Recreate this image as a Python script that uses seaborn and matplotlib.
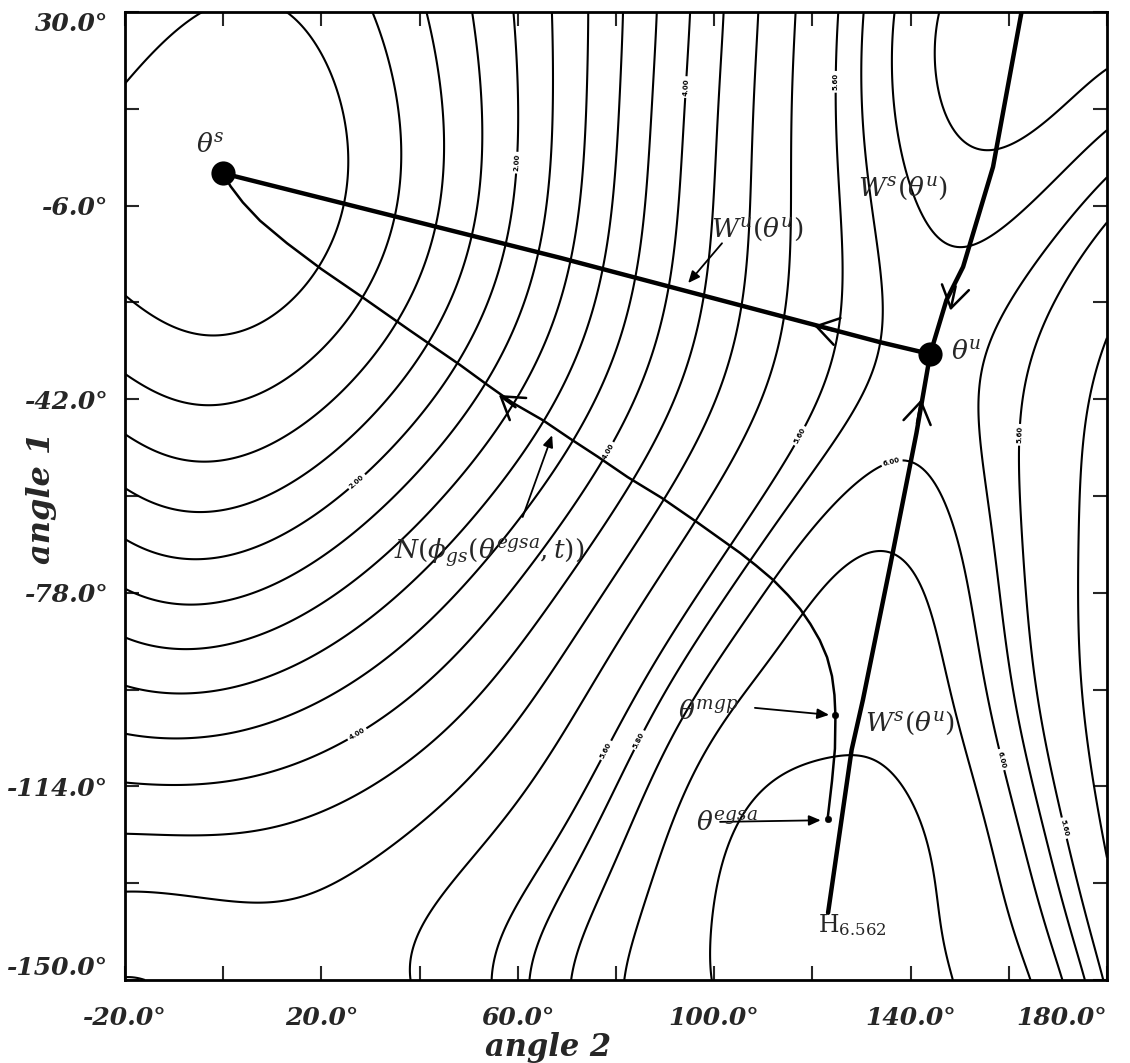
import numpy as np
import matplotlib
matplotlib.use("Agg")
import matplotlib.pyplot as plt
import seaborn as sns

# contour levels of the energy surface
levels = [0.4, 0.8, 1.2, 1.6, 2.0, 2.4, 2.8, 3.2, 3.6, 4.0, 4.4, 4.8,
          5.2, 5.6, 5.8, 6.0, 6.2, 6.4]

# points: (angle 2 list, angle 1 list), degrees
c04 = ([-20, -4.7, 11, 22.4, 26.2, 24.4, 18.7, 8, 0, -12, -20],
       [17, 30, 30, 16.8, 4.3, -5, -19.6, -28, -30, -28, -23])
c08 = ([-20, 0, 12, 28.3, 36, 34, 32], [-37, -43, -38, -23, 0, 15, 30])
c12 = ([-20, 0, 18, 35, 44, 43, 42], [-48, -53, -44, -27, 0, 15, 30])
c16 = ([-20, 0, 22, 42, 53.5, 52, 51.5], [-58, -62, -52, -31, 0, 15, 30])
c20 = ([-20, 0, 27.5, 48.2, 60.2, 59], [-69, -72, -57.6, -35.6, 0, 30])
c24 = ([-20, -9.8, 7.1, 20.7, 53.9, 66.6, 66.5],
       [-78, -79.9, -76.9, -71.9, -39.4, 0, 30])
c28 = ([-20, -9.8, 7.1, 33, 59, 70.2, 73.6, 74.3],
       [-86.8, -88.1, -85.5, -73.2, -42.7, -16.6, 0, 30])
c32 = ([-20, -8.4, 10.5, 41.7, 65.1, 77.1, 80.6, 81.2],
       [-95.5, -96.4, -92.3, -75.1, -45.9, -18.2, 0, 30])
c36 = ([-20, -9.8, 7.1, 51.3, 70.6, 83.9, 86.9, 87.9],
       [-103.9, -105, -101.6, -75.1, -49.3, -19.8, 0, 30])
c40 = ([-20, -6.4, 24.8, 31.9, 60.9, 76.3, 90.6, 93.7, 94.7],
       [-112.8, -114.1, -105.9, -101.6, -75.1, -52.7, -21.4, 0, 30])
c44 = ([-20, -3.1, 20.7, 70.2, 82.4, 97.7, 100.3, 101],
       [-122.5, -123.4, -120.2, -75.1, -56.5, -23.1, 0, 30])
c48 = ([-20, 0.4, 20.7, 77.8, 89.4, 105.7, 107.3, 109.2],
       [-133.8, -137.3, -133.3, -77.5, -60.4, -25, 0, 30])
c52 = ([-20, -17, 31.9, 40, 47.8, 72.3, 82.5, 96.7, 114.8, 115.6, 118,
        180, 174.5, 172.9, 174.5, 177.8, 180],
       [-148.5, -150, -150, -138, -127.7, -92.4, -79.4, -65, -27.1, 0, 30,
        -32.8, -48.3, -66.9, -97.9, -113.7, -123])
c56 = ([57.8, 66, 77.8, 84.9, 105.3, 119, 127.3, 122.6, 128,
        180, 170.4, 162.7, 160.9, 164.3, 170, 179.2],
       [-150, -128, -107.2, -98, -70.6, -49.6, -30.1, 0, 30,
        -6.8, -23.6, -45.3, -60.7, -97.9, -122, -150])
c58 = ([64.5, 85, 92.2, 108.3, 127.7, 135.8, 130, 131.9,
        180, 163.7, 156.2, 155.6, 158.5, 163.3, 175.1],
       [-150, -107, -98, -73.2, -46.4, -23.6, 0, 30,
        0.6, -23.6, -36, -54.6, -98, -105.6, -150])
c60 = ([70.6, 94.3, 112, 127.7, 132.7, 141.3, 148, 153.7, 158.6, 170.8,
        135.2, 138, 141.2, 145, 151.5, 165.7, 180],
       [-150, -98, -75.6, -58.9, -54.2, -50.5, -64, -86.8, -110, -150,
        30, 15, 0, -10, -18, -4.8, 8.6])
c62 = ([76.3, 88, 100.4, 116.9, 126, 134.4, 141, 148.2, 156.4, 166.2,
        140.5, 144.6, 150.1, 157.6, 164.9, 180],
       [-150, -125, -98, -79.9, -72.5, -69.7, -74, -86.8, -111.9, -150,
        30, 16.8, 6.2, 1.2, 3, 16])
c64 = ([102.2, 100.5, 101.8, 106.6, 114, 124.2, 131, 137.8, 144.6, 146],
       [-150, -142, -132, -120.6, -111.5, -107.8, -110.3, -121.5, -138.2, -150])

# a few estimated spot values inside hills / valleys
spot_a2 = [122, 124, 125, 96, 152, 172, 180, 180, 0, 112, 138, 154, 159, 146,
           150, 160, 165, 170]
spot_a1 = [-140, -125, -90, -125, -125, 27, 30, -78, -150, -98, -100, -98, -98, -75,
           28, 25, 14, 22]
spot_v = [6.55, 6.5, 6.3, 6.3, 6.3, 6.28, 6.3, 5.05, 5.05, 6.3, 6.3, 6.1, 5.9, 6.1,
          6.25, 6.28, 6.25, 6.28]

# equilibria (angle 2, angle 1) and saddle energy
theta_s = (0.0, 0.0)
theta_u = (144.0, -33.6)
v_saddle = 5.87
theta_mgp = (124.7, -100.8)
theta_egsa = (123.1, -120.1)

# manifolds and the gradient trajectory
wu_a2 = [0.0, 68.6, 133.8, 144.0]
wu_a1 = [0.0, -15.7, -31.4, -33.6]
ws_a2 = [162.6, 156.8, 150.7, 147.3, 144.0, 141.2, 135.8, 130.3, 128.0, 123.2]
ws_a1 = [30.0, 1.2, -17.4, -23.6, -33.6, -48.3, -73.2, -97.9, -107.2, -137.5]
n_a2 = [123.1, 124.0, 124.6, 124.7, 124.5, 124.0, 123.0, 121.5, 119.6, 117.5,
        115.0, 112.0, 108.5, 105.3, 96.7, 89.4, 82.4, 76.3, 70.6, 65.1, 59.0,
        53.9, 48.2, 38.0, 28.3, 20.0, 13.0, 7.5, 4.0, 1.5, 0.0]
n_a1 = [-120.1, -113.0, -107.0, -100.8, -97.0, -93.5, -90.0, -86.8, -83.8, -81.0,
        -78.4, -75.6, -72.9, -70.6, -65.0, -60.4, -56.5, -52.7, -49.3, -45.9, -42.7,
        -39.4, -35.6, -29.2, -23.0, -17.8, -13.0, -8.8, -5.4, -2.4, 0.0]

# tick labels
x_ticks = list(range(-20, 181, 20))
x_labels = ["-20.0°", "", "20.0°", "", "60.0°", "", "100.0°", "", "140.0°", "", "180.0°"]
y_ticks = list(range(-150, 31, 18))
y_labels = ["-150.0°", "", "-114.0°", "", "-78.0°", "", "-42.0°", "", "-6.0°", "", "30.0°"]

# where the small level labels sit
lab_a2 = [59.6, 95, 127, 27.5, 77, 119, 161.7, 27.5, 77.8, 86, 136, 158.6, 170.2]
lab_a1 = [2, 16, 17, -57.6, -51, -49.6, -48.6, -104.6, -107.2, -106, -53, -109, -122]


# ---------------- energy surface fitted through the read contour points -------------
modes = [(0, 1), (0, 2), (0, 3)] + [(m, n) for m in (1, 2, 3) for n in range(-3, 4)]
# local bumps for the hill and the saddle area
bump_a2 = [100, 125, 150, 112, 137, 125, 140, 165, 160]
bump_a1 = [-150, -150, -150, -125, -125, -100, 0, -60, -110]
bump_w = 20.0


def features(a2, a1):
    x = np.asarray(a2, dtype=float)
    y = np.asarray(a1, dtype=float)
    u, v = np.radians(x), np.radians(y)
    cols = [u, v]
    for m, n in modes:
        ph = m * u + n * v
        cols.append(1.0 - np.cos(ph))
        cols.append(np.sin(ph))
    for bx, by in zip(bump_a2, bump_a1):
        cols.append(np.exp(-((x - bx) ** 2 + (y - by) ** 2) / (2 * bump_w ** 2)))
    return np.stack(cols, axis=-1)


def feature_grads(a2, a1):
    x = np.asarray(a2, dtype=float)
    y = np.asarray(a1, dtype=float)
    u, v = np.radians(x), np.radians(y)
    one, zero = np.ones_like(u), np.zeros_like(u)
    gu, gv = [one, zero], [zero, one]
    for m, n in modes:
        ph = m * u + n * v
        s, c = np.sin(ph), np.cos(ph)
        gu += [m * s, m * c]
        gv += [n * s, n * c]
    k = 180.0 / np.pi
    for bx, by in zip(bump_a2, bump_a1):
        g = np.exp(-((x - bx) ** 2 + (y - by) ** 2) / (2 * bump_w ** 2))
        gu.append(-k * (x - bx) / bump_w ** 2 * g)
        gv.append(-k * (y - by) / bump_w ** 2 * g)
    return np.stack(gu, axis=-1), np.stack(gv, axis=-1)


lines = [(0.4, c04, 1), (0.8, c08, 1), (1.2, c12, 1), (1.6, c16, 1), (2.0, c20, 1),
         (2.4, c24, 1), (2.8, c28, 1), (3.2, c32, 1), (3.6, c36, 1), (4.0, c40, 1),
         (4.4, c44, 1), (4.8, c48, 1), (5.2, c52, 1.2), (5.6, c56, 1.8), (5.8, c58, 2.5),
         (6.0, c60, 3), (6.2, c62, 2.5), (6.4, c64, 3)]
pa2 = np.concatenate([np.array(p[0], float) for _, p, _ in lines] + [np.array(spot_a2, float)])
pa1 = np.concatenate([np.array(p[1], float) for _, p, _ in lines] + [np.array(spot_a1, float)])
pv = np.concatenate([np.full(len(p[0]), lv) for lv, p, _ in lines] + [np.array(spot_v)])
pw = np.concatenate([np.full(len(p[0]), w) for _, p, w in lines] + [np.full(len(spot_v), 2.5)])

eq2 = [theta_s[0], theta_u[0]]
eq1 = [theta_s[1], theta_u[1]]
gu, gv = feature_grads(eq2, eq1)
A = np.vstack([features(pa2, pa1) * pw[:, None], 4 * gu, 4 * gv,
               6 * features([theta_u[0]], [theta_u[1]])])
b = np.concatenate([pv * pw, np.zeros(4), [6 * v_saddle]])
pen = np.array([1.0, 1.0] + [float(m * m + n * n) for m, n in modes for _ in (0, 1)]
               + [3.0] * len(bump_a2))
lam = 0.02
A = np.vstack([A, lam * np.diag(pen)])
b = np.concatenate([b, np.zeros(len(pen))])
coef = np.linalg.lstsq(A, b, rcond=None)[0]

g2, g1 = np.meshgrid(np.linspace(-20, 180, 401), np.linspace(-150, 30, 361))
Z = features(g2, g1) @ coef

# ---------------- drawing ----------------
sns.set_theme(style="ticks")
plt.rcParams["font.family"] = ["DejaVu Serif"]
plt.rcParams["mathtext.fontset"] = "dejavuserif"

fig = plt.figure(figsize=(11.3, 10.63), dpi=100)
ax = fig.add_axes([0.1106, 0.0781, 0.869, 0.9106])

cs = ax.contour(g2, g1, Z, levels=levels, colors="black", linewidths=1.5)
txts = ax.clabel(cs, manual=list(zip(lab_a2, lab_a1)), inline=True,
                 fontsize=5, fmt="%.2f", inline_spacing=3)
for t in txts:
    t.set_fontweight("bold")
    t.set_family("DejaVu Sans")

sns.lineplot(x=wu_a2, y=wu_a1, sort=False, estimator=None, color="black", lw=3.2, ax=ax)
sns.lineplot(x=ws_a2, y=ws_a1, sort=False, estimator=None, color="black", lw=3.2, ax=ax)
sns.lineplot(x=n_a2, y=n_a1, sort=False, estimator=None, color="black", lw=1.8, ax=ax)

sns.scatterplot(x=[theta_s[0], theta_u[0]], y=[theta_s[1], theta_u[1]], s=260,
                color="black", edgecolor="black", ax=ax, zorder=5)
sns.scatterplot(x=[theta_mgp[0], theta_egsa[0]], y=[theta_mgp[1], theta_egsa[1]], s=22,
                color="black", edgecolor="black", ax=ax, zorder=5)

# open chevrons on the trajectories
chev = dict(arrowstyle="->,head_length=0.7,head_width=0.45", color="black", lw=1.8,
            mutation_scale=22)
ax.annotate("", xy=(119.8, -28.2), xytext=(125.0, -29.4), arrowprops=chev)
ax.annotate("", xy=(55.7, -40.9), xytext=(60.0, -43.8), arrowprops=chev)
ax.annotate("", xy=(148.0, -26.0), xytext=(149.3, -20.5), arrowprops=chev)
ax.annotate("", xy=(142.3, -41.5), xytext=(141.2, -47.0), arrowprops=chev)

# pointer arrows
ptr = dict(arrowstyle="-|>,head_length=0.5,head_width=0.22", color="black", lw=1.3,
           mutation_scale=14, shrinkA=0, shrinkB=0)
ax.annotate("", xy=(94.7, -20.4), xytext=(101.6, -13.0), arrowprops=ptr)
ax.annotate("", xy=(67.0, -48.7), xytext=(61.0, -63.9), arrowprops=ptr)
ax.annotate("", xy=(123.4, -100.7), xytext=(108.3, -99.4), arrowprops=ptr)
ax.annotate("", xy=(121.7, -120.3), xytext=(101.2, -120.6), arrowprops=ptr)

fs = 19
ax.text(-2.7, 5.3, r"$\theta^{s}$", fontsize=fs, ha="center", va="center")
ax.text(148.3, -33.2, r"$\theta^{u}$", fontsize=fs, ha="left", va="center")
ax.text(108.8, -10.4, r"$W^{u}(\theta^{u})$", fontsize=fs, ha="center", va="center")
ax.text(138.4, -2.8, r"$W^{s}(\theta^{u})$", fontsize=fs, ha="center", va="center")
ax.text(139.9, -102.2, r"$W^{s}(\theta^{u})$", fontsize=fs, ha="center", va="center")
ax.text(98.8, -100.0, r"$\theta^{mgp}$", fontsize=fs, ha="center", va="center")
ax.text(102.6, -120.8, r"$\theta^{egsa}$", fontsize=fs, ha="center", va="center")
ax.text(54.1, -70.5, r"$N(\phi_{gs}(\theta^{egsa},t))$", fontsize=fs, ha="center", va="center")
ax.text(121.1, -139.8, r"H$_{6.562}$", fontsize=17, ha="left", va="center")

ax.set_xlim(-20, 180)
ax.set_ylim(-150, 30)
ax.set_xticks(x_ticks)
ax.set_xticklabels(x_labels)
ax.set_yticks(y_ticks)
ax.set_yticklabels(y_labels)
ax.tick_params(direction="in", length=10, width=1.5, top=True, right=True,
               labelsize=18)
ax.tick_params(axis="x", pad=19)
ax.tick_params(axis="y", pad=12)
for lab in ax.get_xticklabels() + ax.get_yticklabels():
    lab.set_fontstyle("italic")
    lab.set_fontweight("bold")
ylabs = ax.get_yticklabels()
ylabs[0].set_va("bottom")
ylabs[-1].set_va("top")
xlabs = ax.get_xticklabels()
xlabs[-1].set_ha("right")
for sp in ax.spines.values():
    sp.set_linewidth(2.0)
    sp.set_color("black")
ax.set_xlabel("")
ax.set_ylabel("")

fig.text(0.485, 0.0145, "angle 2", fontsize=22, style="italic", weight="bold",
         ha="center", va="center")
fig.text(0.037, 0.532, "angle 1", fontsize=23, style="italic", weight="bold",
         ha="center", va="center", rotation=90)

fig.savefig("out.png", dpi=100)
